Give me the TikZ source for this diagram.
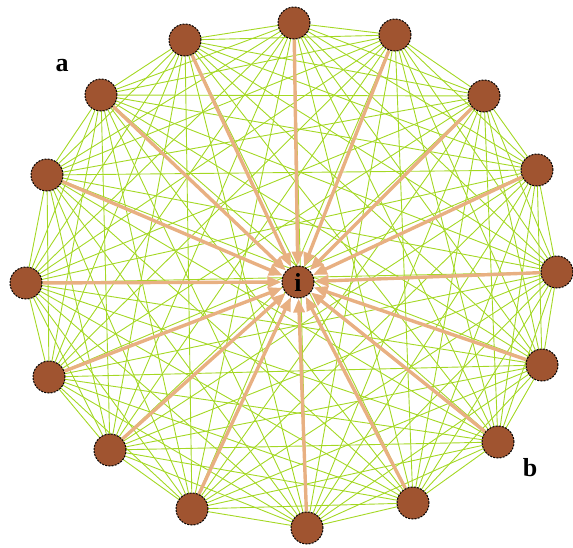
\documentclass[tikz,border=0pt]{standalone}
\usepackage{fontspec}
\setmainfont{Liberation Serif}
\usetikzlibrary{arrows.meta,backgrounds}
\definecolor{nodebrown}{RGB}{160,84,48}
\definecolor{edgegreen}{RGB}{164,216,36}
\definecolor{spoke}{RGB}{232,176,130}
\tikzset{
  vert/.style={circle,fill=nodebrown,draw=black,dash pattern=on 2pt off 1.2pt,line width=1pt,minimum size=32pt,inner sep=0pt},
  mesh/.style={draw=edgegreen,line width=0.9pt},
  spokearrow/.style={draw=spoke,line width=3.4pt,-{Triangle[length=14pt,width=11pt]}},
  tag/.style={font=\fontsize{26}{28}\selectfont\bfseries}
}
\begin{document}
\begin{tikzpicture}[x=1pt,y=-1pt]
\useasboundingbox (0,0) rectangle (573,547);
\node[vert] (n1) at (294,23) {};
\node[vert] (n2) at (395,35) {};
\node[vert] (n3) at (484,96) {};
\node[vert] (n4) at (537,170) {};
\node[vert] (n5) at (557,272) {};
\node[vert] (n6) at (542,365) {};
\node[vert] (n7) at (498,442) {};
\node[vert] (n8) at (413,503) {};
\node[vert] (n9) at (307,528) {};
\node[vert] (n10) at (192,509) {};
\node[vert] (n11) at (110,450) {};
\node[vert] (n12) at (49,377) {};
\node[vert] (n13) at (26,283) {};
\node[vert] (n14) at (47,175) {};
\node[vert] (n15) at (101,95) {};
\node[vert] (n16) at (185,40) {};
\node[vert,font=\fontsize{26}{28}\selectfont\bfseries] (c) at (298,282) {i};
\node[tag] (la) at (62,66) {a};
\node[tag] (lb) at (530,468) {b};
\begin{scope}[on background layer]
  % every pair of outer vertices is joined
  \foreach \i in {1,...,15}{
    \pgfmathtruncatemacro{\s}{\i+1}
    \foreach \j in {\s,...,16}{
      \draw[mesh] (n\i.center) -- (n\j.center);
    }
  }
  % spokes from each outer vertex to the centre
  \foreach \i in {1,...,16}{
    \draw[spokearrow] (n\i) -- (c);
  }
\end{scope}
\end{tikzpicture}
\end{document}
